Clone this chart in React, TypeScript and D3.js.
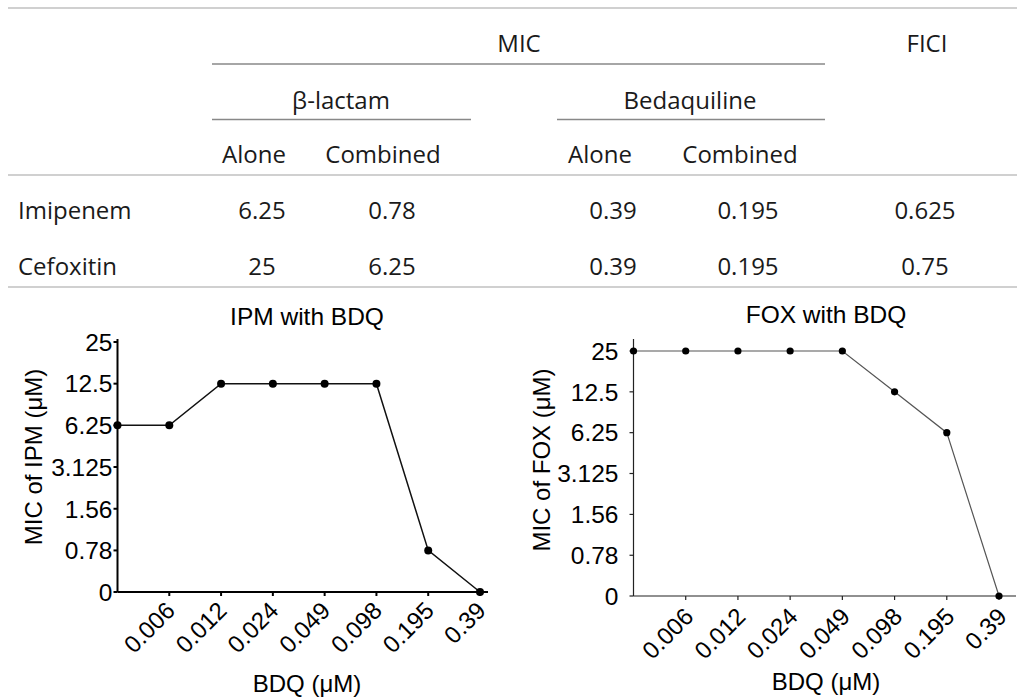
import React from "react";
import * as d3 from "d3";

// ---------- Data ----------
const tableRows = ["Imipenem", "Cefoxitin"];
const lactamAlone = ["6.25", "25"];
const lactamCombined = ["0.78", "6.25"];
const bdqAlone = ["0.39", "0.39"];
const bdqCombined = ["0.195", "0.195"];
const ficiValues = ["0.625", "0.75"];

const categories = ["0", "0.006", "0.012", "0.024", "0.049", "0.098", "0.195", "0.39"];
const ipmValues = [6.25, 6.25, 12.5, 12.5, 12.5, 12.5, 0.78, 0];
const foxValues = [25, 25, 25, 25, 25, 12.5, 6.25, 0];
const yTicks = [0, 0.78, 1.56, 3.125, 6.25, 12.5, 25];
const yTickLabels = ["0", "0.78", "1.56", "3.125", "6.25", "12.5", "25"];

// ---------- Layout ----------
const W = 1017;
const H = 700;
const tableFont = "'Open Sans', sans-serif";
const chartFont = "'Liberation Sans', Arial, sans-serif";
const FLOOR = 0.390625;
const MU = "\u03bc";

type Panel = {
  title: string;
  yTitle: string;
  values: number[];
  x0: number;
  x1: number;
  axisEnd: number;
  y0: number;
  y1: number;
  axisTop: number;
  titleX: number;
  titleY: number;
  yTitleX: number;
  yTitleY: number;
  xTitleY: number;
  labelGap: number;
  xLabelDx: number;
  xLabelDy: number;
  axisColor: string;
  axisWidth: number;
  lineColor: string;
  lineWidth: number;
  r: number;
};

const panels: Panel[] = [
  {
    title: "IPM with BDQ",
    yTitle: `MIC of IPM (${MU}M)`,
    values: ipmValues,
    x0: 117.5,
    x1: 480,
    axisEnd: 488,
    y0: 592,
    y1: 342,
    axisTop: 339,
    titleX: 307,
    titleY: 325,
    yTitleX: 33,
    yTitleY: 457,
    xTitleY: 692,
    labelGap: 5,
    xLabelDx: 1,
    xLabelDy: 14,
    axisColor: "#000",
    axisWidth: 2,
    lineColor: "#111",
    lineWidth: 1.5,
    r: 4,
  },
  {
    title: "FOX with BDQ",
    yTitle: `MIC of FOX (${MU}M)`,
    values: foxValues,
    x0: 633.5,
    x1: 999,
    axisEnd: 1016,
    y0: 596,
    y1: 351,
    axisTop: 339,
    titleX: 826,
    titleY: 323,
    yTitleX: 541,
    yTitleY: 460,
    xTitleY: 690,
    labelGap: 15,
    xLabelDx: 3,
    xLabelDy: 16,
    axisColor: "#222",
    axisWidth: 1.2,
    lineColor: "#555",
    lineWidth: 1.2,
    r: 3.6,
  },
];

function ChartPanel({ p }: { p: Panel }) {
  const x = d3.scalePoint<string>().domain(categories).range([p.x0, p.x1]);
  const y = d3.scaleLog().base(2).domain([FLOOR, 25]).range([p.y0, p.y1]);
  const yv = (v: number) => y(v === 0 ? FLOOR : v);
  const line = d3
    .line<number>()
    .x((_, i) => x(categories[i]) as number)
    .y((v) => yv(v));
  return (
    <g fontFamily={chartFont} fill="#000">
      <text x={p.titleX} y={p.titleY} textAnchor="middle" fontSize={24.5}>
        {p.title}
      </text>
      {/* y axis */}
      <line x1={p.x0} x2={p.x0} y1={p.axisTop} y2={p.y0} stroke={p.axisColor} strokeWidth={p.axisWidth} />
      {yTicks.map((t, i) => (
        <g key={"yt" + i}>
          <line x1={p.x0 - 4} x2={p.x0} y1={yv(t)} y2={yv(t)} stroke={p.axisColor} strokeWidth={p.axisWidth} />
          <text x={p.x0 - p.labelGap} y={yv(t)} dy="0.36em" textAnchor="end" fontSize={24.5}>
            {yTickLabels[i]}
          </text>
        </g>
      ))}
      {/* x axis */}
      <line x1={p.x0} x2={p.axisEnd} y1={p.y0} y2={p.y0} stroke={p.axisColor} strokeWidth={p.axisWidth} />
      {categories.map((c, i) =>
        i === 0 ? null : (
          <g key={"xt" + i}>
            <line
              x1={x(c) as number}
              x2={x(c) as number}
              y1={p.y0}
              y2={p.y0 + 4}
              stroke={p.axisColor}
              strokeWidth={p.axisWidth}
            />
            <text
              transform={`translate(${(x(c) as number) + p.xLabelDx},${p.y0 + p.xLabelDy}) rotate(-45)`}
              textAnchor="end"
              dy="0.36em"
              fontSize={24}
            >
              {c}
            </text>
          </g>
        )
      )}
      <path d={line(p.values) || ""} fill="none" stroke={p.lineColor} strokeWidth={p.lineWidth} />
      {p.values.map((v, i) => (
        <circle key={"pt" + i} cx={x(categories[i]) as number} cy={yv(v)} r={p.r} fill="#000" />
      ))}
      <text x={p.titleX} y={p.xTitleY} textAnchor="middle" fontSize={24}>
        {`BDQ (${MU}M)`}
      </text>
      <text
        transform={`translate(${p.yTitleX},${p.yTitleY}) rotate(-90)`}
        textAnchor="middle"
        dy="0.36em"
        fontSize={24}
      >
        {p.yTitle}
      </text>
    </g>
  );
}

export default function App() {
  const colX = { name: 18, la: 262, lc: 392, ba: 613, bc: 748, fici: 925 };
  const rowY = [219, 275];
  return (
    <svg
      width={W}
      height={H}
      viewBox={`0 0 ${W} ${H}`}
      style={{ position: "absolute", left: 0, top: 0, background: "#fff" }}
    >
      <rect x={0} y={0} width={W} height={H} fill="#fff" />
      <g fontFamily={tableFont} fontSize={24} fill="#1a1a1a">
        <line x1={8} x2={1017} y1={8} y2={8} stroke="#d0d0d0" strokeWidth={2} />
        <text x={519} y={52} textAnchor="middle">MIC</text>
        <text x={927} y={52} textAnchor="middle">FICI</text>
        <line x1={212} x2={825} y1={64} y2={64} stroke="#888" strokeWidth={1.5} />
        <text x={341} y={109} textAnchor="middle">{"\u03b2-lactam"}</text>
        <text x={690} y={109} textAnchor="middle">Bedaquiline</text>
        <line x1={212} x2={471} y1={119.5} y2={119.5} stroke="#888" strokeWidth={1.5} />
        <line x1={557} x2={825} y1={119.5} y2={119.5} stroke="#888" strokeWidth={1.5} />
        <text x={254} y={163} textAnchor="middle">Alone</text>
        <text x={383} y={163} textAnchor="middle">Combined</text>
        <text x={600} y={163} textAnchor="middle">Alone</text>
        <text x={740} y={163} textAnchor="middle">Combined</text>
        <line x1={8} x2={1017} y1={175} y2={175} stroke="#d0d0d0" strokeWidth={2} />
        {tableRows.map((r, i) => (
          <g key={r}>
            <text x={colX.name} y={rowY[i]}>{r}</text>
            <text x={colX.la} y={rowY[i]} textAnchor="middle">{lactamAlone[i]}</text>
            <text x={colX.lc} y={rowY[i]} textAnchor="middle">{lactamCombined[i]}</text>
            <text x={colX.ba} y={rowY[i]} textAnchor="middle">{bdqAlone[i]}</text>
            <text x={colX.bc} y={rowY[i]} textAnchor="middle">{bdqCombined[i]}</text>
            <text x={colX.fici} y={rowY[i]} textAnchor="middle">{ficiValues[i]}</text>
          </g>
        ))}
        <line x1={8} x2={1017} y1={287} y2={287} stroke="#d0d0d0" strokeWidth={2} />
      </g>
      {panels.map((p) => (
        <ChartPanel key={p.title} p={p} />
      ))}
    </svg>
  );
}
